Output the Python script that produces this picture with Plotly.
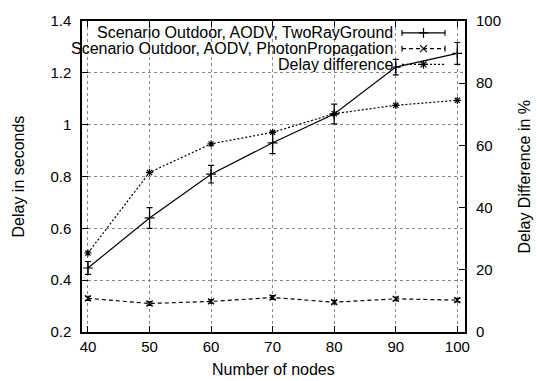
import plotly.graph_objects as go

nodes = [40, 50, 60, 70, 80, 90, 100]
tworay_delay = [0.447, 0.640, 0.809, 0.930, 1.041, 1.222, 1.275]
tworay_err = [0.025, 0.040, 0.034, 0.042, 0.038, 0.030, 0.042]
photon_delay = [0.330, 0.310, 0.318, 0.333, 0.315, 0.328, 0.323]
photon_err = [0.008, 0.007, 0.007, 0.007, 0.007, 0.007, 0.007]
delay_diff = [25.4, 51.3, 60.5, 64.2, 70.2, 72.9, 74.5]

legend_labels = [
    "Scenario Outdoor, AODV, TwoRayGround",
    "Scenario Outdoor, AODV, PhotonPropagation",
    "Delay difference",
]
y_ticks = [0.2, 0.4, 0.6, 0.8, 1.0, 1.2, 1.4]
y_ticktext = ["0.2", "0.4", "0.6", "0.8", "1", "1.2", "1.4"]
y2_ticks = [0, 20, 40, 60, 80, 100]

FONT = "Liberation Sans, Arial, Helvetica, sans-serif"
FS_TICK = 15
FS_TEXT = 16

fig = go.Figure()

fig.add_trace(go.Scatter(
    x=nodes, y=tworay_delay, mode="lines+markers",
    line=dict(color="black", width=1.2),
    marker=dict(symbol="cross-thin", size=7, color="black", line=dict(color="black", width=1.2)),
    error_y=dict(type="data", array=tworay_err, color="black", thickness=1.2, width=3),
    showlegend=False,
))
fig.add_trace(go.Scatter(
    x=nodes, y=photon_delay, mode="lines+markers",
    line=dict(color="black", width=1.2, dash="4px,3px"),
    marker=dict(symbol="x-thin", size=6, color="black", line=dict(color="black", width=1.2)),
    error_y=dict(type="data", array=photon_err, color="black", thickness=1.2, width=3),
    showlegend=False,
))
fig.add_trace(go.Scatter(
    x=nodes, y=delay_diff, mode="lines+markers", yaxis="y2",
    line=dict(color="black", width=1.2, dash="2px,2px"),
    marker=dict(symbol="asterisk", size=6, color="black", line=dict(color="black", width=1.2)),
    showlegend=False,
))

# manual gnuplot-style legend (text right-aligned, sample on the right)
L, R, T, B = 82, 72, 17, 49
W, H = 537 - L - R, 381 - T - B
def px(x):
    return (x - L) / W
def py(y):
    return (381 - B - y) / H

rows_y = [29.0, 45.0, 61.0]
text_right = 394
s0, s1 = 402, 445
dashes = ["solid", "4px,3px", "2px,2px"]
symbols = ["cross-thin", "x-thin", "asterisk"]
caps = [True, True, False]
shapes = []
annotations = []
for lab, ry, dsh, cap in zip(legend_labels, rows_y, dashes, caps):
    annotations.append(dict(
        text=lab, x=px(text_right), y=py(ry), xref="paper", yref="paper",
        xanchor="right", yanchor="middle", showarrow=False, height=15,
        borderpad=0, font=dict(family=FONT, size=FS_TEXT, color="black"),
    ))
    shapes.append(dict(type="line", xref="paper", yref="paper",
                       x0=px(s0), x1=px(s1), y0=py(ry), y1=py(ry),
                       line=dict(color="black", width=1.2, dash=dsh)))
    if cap:
        for cx in (s0, s1):
            shapes.append(dict(type="line", xref="paper", yref="paper",
                               x0=px(cx), x1=px(cx), y0=py(ry - 3), y1=py(ry + 3),
                               line=dict(color="black", width=1.2)))

fig.add_trace(go.Scatter(
    x=[px((s0 + s1) / 2)] * 3, y=[py(r) for r in rows_y],
    xaxis="x3", yaxis="y3", mode="markers",
    marker=dict(symbol=symbols, size=7, color="black", line=dict(color="black", width=1.2)),
    showlegend=False, hoverinfo="skip",
))

# axis titles
annotations += [
    dict(text="Delay in seconds", x=px(18), y=0.5, xref="paper", yref="paper",
         textangle=-90, showarrow=False, xanchor="center", yanchor="middle",
         font=dict(family=FONT, size=FS_TEXT, color="black")),
    dict(text="Delay Difference in %", x=px(524), y=0.5, xref="paper", yref="paper",
         textangle=-90, showarrow=False, xanchor="center", yanchor="middle",
         font=dict(family=FONT, size=FS_TEXT, color="black")),
    dict(text="Number of nodes", x=0.5, y=py(370), xref="paper", yref="paper",
         showarrow=False, xanchor="center", yanchor="middle",
         font=dict(family=FONT, size=FS_TEXT, color="black")),
]

grid = dict(showgrid=True, gridcolor="#888888", griddash="dot", gridwidth=1)
fig.update_layout(
    width=537, height=381,
    margin=dict(l=L, r=R, t=T, b=B),
    paper_bgcolor="white", plot_bgcolor="white",
    font=dict(family=FONT, size=FS_TICK, color="black"),
    showlegend=False,
    xaxis=dict(range=[39.03, 101.25], tickvals=nodes, ticks="inside", ticklen=6,
               tickcolor="black", tickwidth=1, showline=True, linecolor="black",
               linewidth=1.5, mirror="ticks", zeroline=False, ticklabelstandoff=0, **grid),
    yaxis=dict(range=[0.2, 1.4], tickvals=y_ticks, ticktext=y_ticktext, ticks="inside",
               ticklen=6, tickcolor="black", tickwidth=1, showline=True, linecolor="black",
               linewidth=1.5, mirror=True, zeroline=False, ticklabelstandoff=6, **grid),
    yaxis2=dict(range=[0, 100], tickvals=y2_ticks, overlaying="y", side="right",
                ticks="inside", ticklen=6, tickcolor="black", tickwidth=1,
                showline=False, showgrid=False, zeroline=False, ticklabelstandoff=10),
    xaxis3=dict(overlaying="x", range=[0, 1], visible=False),
    yaxis3=dict(overlaying="y", range=[0, 1], visible=False),
    shapes=shapes,
    annotations=annotations,
)

fig.write_html("out.html", config={"displayModeBar": False},
               post_script="document.body.style.margin='0';document.body.style.overflow='hidden';")
